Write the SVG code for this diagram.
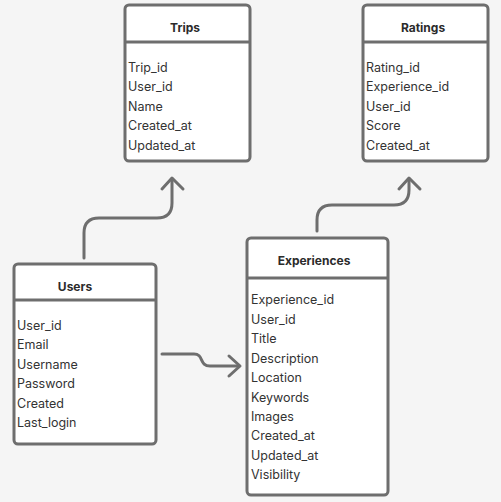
<svg xmlns="http://www.w3.org/2000/svg" width="501" height="502" viewBox="0 0 501 502">
<style>
.box{fill:#ffffff;stroke:#6e6e6e;stroke-width:3}
.div{stroke:#6e6e6e;stroke-width:3}
.title{font-family:Inter,"Liberation Sans",sans-serif;font-size:12px;font-weight:700;fill:#2b2b2b;text-anchor:middle}
.row{font-family:Inter,"Liberation Sans",sans-serif;font-size:12.5px;fill:#333333}
.conn{fill:none;stroke:#6e6e6e;stroke-width:3;stroke-linecap:round;stroke-linejoin:round}
</style>
<rect x="0" y="0" width="501" height="502" fill="#f5f5f5"/>
<g id="connectors">
<path class="conn" d="M84 258 V233 Q84 218 99 218 H157 Q172 218 172 203 V179"/>
<path class="conn" d="M162 189 L172 178 L183 189"/>
<path class="conn" d="M317 231 V220 Q317 205 332 205 H394 Q409 205 409 190 V179"/>
<path class="conn" d="M399 189 L409 178 L420 189"/>
<path class="conn" d="M162 354 H194 C204 354 199 366 210 366 H239"/>
<path class="conn" d="M229 356 L240 366 L229 376"/>
</g>
<g id="trips">
<rect class="box" x="125" y="5" width="125" height="156" rx="4"/>
<line class="div" x1="125" y1="42" x2="250" y2="42"/>
<text class="title" x="185" y="32">Trips</text>
<text class="row" x="128" y="72">Trip_id</text>
<text class="row" x="128" y="91">User_id</text>
<text class="row" x="128" y="111">Name</text>
<text class="row" x="128" y="130">Created_at</text>
<text class="row" x="128" y="150">Updated_at</text>
</g>
<g id="ratings">
<rect class="box" x="363" y="5" width="125" height="156" rx="4"/>
<line class="div" x1="363" y1="42" x2="488" y2="42"/>
<text class="title" x="423" y="32">Ratings</text>
<text class="row" x="366" y="72">Rating_id</text>
<text class="row" x="366" y="91">Experience_id</text>
<text class="row" x="366" y="111">User_id</text>
<text class="row" x="366" y="130">Score</text>
<text class="row" x="366" y="150">Created_at</text>
</g>
<g id="users">
<rect class="box" x="14" y="264" width="142" height="180" rx="4"/>
<line class="div" x1="14" y1="300" x2="156" y2="300"/>
<text class="title" x="75" y="291">Users</text>
<text class="row" x="17" y="330">User_id</text>
<text class="row" x="17" y="349">Email</text>
<text class="row" x="17" y="369">Username</text>
<text class="row" x="17" y="388">Password</text>
<text class="row" x="17" y="408">Created</text>
<text class="row" x="17" y="427">Last_login</text>
</g>
<g id="experiences">
<rect class="box" x="247" y="238" width="141" height="257" rx="4"/>
<line class="div" x1="247" y1="278" x2="388" y2="278"/>
<text class="title" x="314" y="265">Experiences</text>
<text class="row" x="251" y="304">Experience_id</text>
<text class="row" x="251" y="324">User_id</text>
<text class="row" x="251" y="343">Title</text>
<text class="row" x="251" y="363">Description</text>
<text class="row" x="251" y="382">Location</text>
<text class="row" x="251" y="402">Keywords</text>
<text class="row" x="251" y="421">Images</text>
<text class="row" x="251" y="440">Created_at</text>
<text class="row" x="251" y="460">Updated_at</text>
<text class="row" x="251" y="479">Visibility</text>
</g>
</svg>
